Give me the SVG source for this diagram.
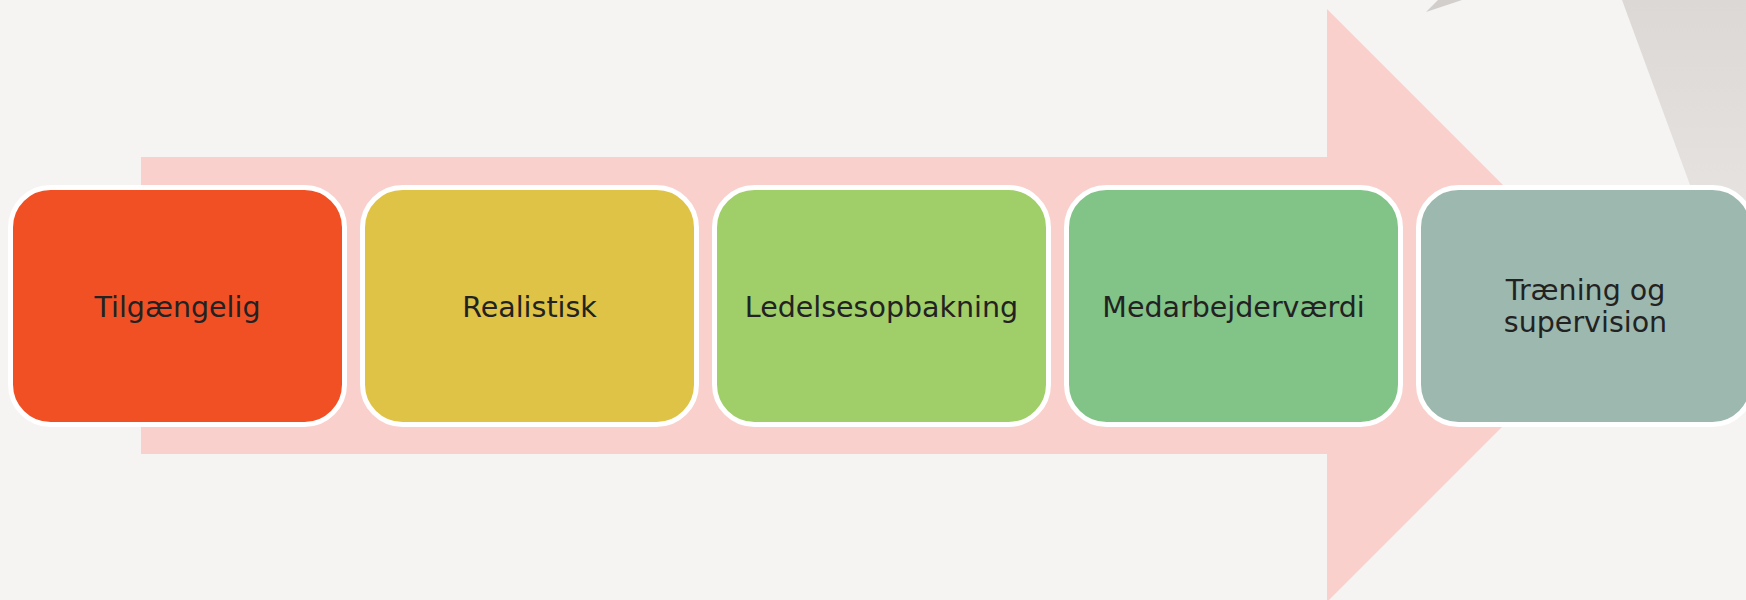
<svg xmlns="http://www.w3.org/2000/svg" width="1746" height="600" viewBox="0 0 1746 600">
<defs>
<linearGradient id="gr" x1="0" y1="0" x2="0" y2="1">
<stop offset="0" stop-color="#dcd8d5"/>
<stop offset="1" stop-color="#ebe9e7"/>
</linearGradient>
<style>
.box{stroke:#ffffff;stroke-width:5}
.t{font-family:"DejaVu Sans",Verdana,sans-serif;font-size:28.5px;fill:#222222;text-anchor:middle}
</style>
</defs>
<rect width="1746" height="600" fill="#f5f4f2"/>
<polygon points="1622,0 1746,0 1746,337" fill="url(#gr)"/>
<polygon points="1426,12 1438,0 1462,0" fill="#d2cecb"/>
<polygon id="arrow" points="141,157 1327,157 1327,9 1623.5,305.5 1327,602 1327,454 141,454" fill="#f9d0cc"/>
<g id="node1"><rect class="box" x="10.5" y="187.5" width="334" height="237" rx="40" fill="#f15025"/><text class="t" x="177.5" y="316.5">Tilgængelig</text></g>
<g id="node2"><rect class="box" x="362.5" y="187.5" width="334" height="237" rx="40" fill="#dfc346"/><text class="t" x="529.5" y="316.5">Realistisk</text></g>
<g id="node3"><rect class="box" x="714.5" y="187.5" width="334" height="237" rx="40" fill="#a0ce69"/><text class="t" x="881.5" y="316.5">Ledelsesopbakning</text></g>
<g id="node4"><rect class="box" x="1066.5" y="187.5" width="334" height="237" rx="40" fill="#82c388"/><text class="t" x="1233.5" y="316.5">Medarbejderværdi</text></g>
<g id="node5"><rect class="box" x="1418.5" y="187.5" width="334" height="237" rx="40" fill="#9db8ae"/><text class="t" x="1585.5" y="299.5">Træning og</text><text class="t" x="1585.5" y="331.5">supervision</text></g>
<g id="connectors"></g>
</svg>
